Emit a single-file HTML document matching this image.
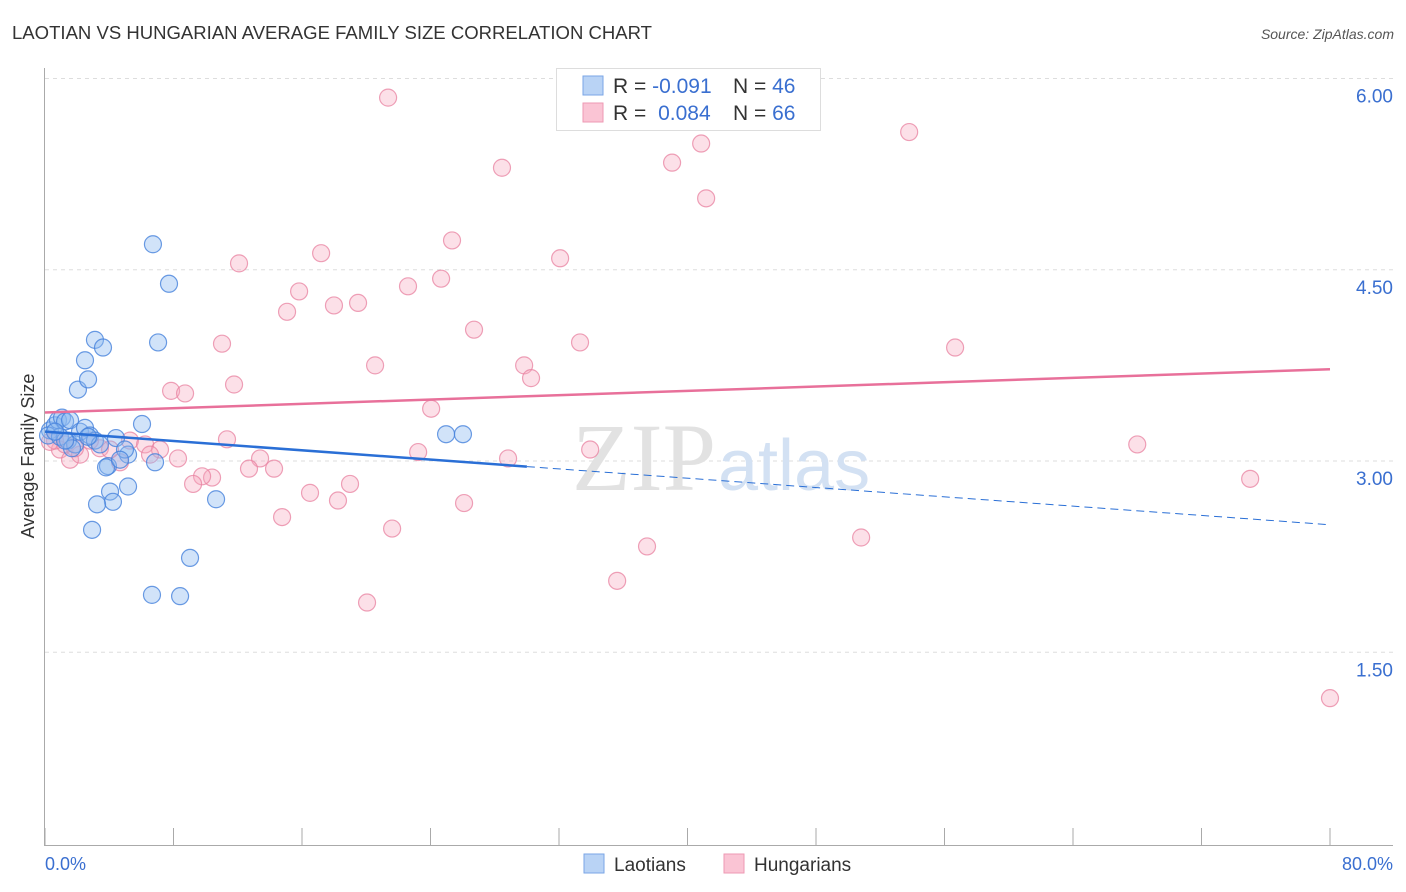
<!DOCTYPE html>
<html><head><meta charset="utf-8"><style>
body{margin:0;background:#fff;font-family:"Liberation Sans",sans-serif;}
svg{display:block}
</style></head><body>
<svg id="chart" width="1406" height="892">
<text x="12" y="39" font-size="18" fill="#333" textLength="640" lengthAdjust="spacingAndGlyphs">LAOTIAN VS HUNGARIAN AVERAGE FAMILY SIZE CORRELATION CHART</text>
<text x="1394" y="39" font-size="14" fill="#555" font-style="italic" text-anchor="end">Source: ZipAtlas.com</text>
<g id="grid"></g>
<text x="716" y="490" font-size="96" fill="#e2e2e2" text-anchor="end" font-family="Liberation Serif,serif">ZIP</text>
<text x="718" y="490" font-size="72" fill="#d3e1f3">atlas</text>
<g id="marks"></g>
<text transform="translate(34,456) rotate(-90)" font-size="18" fill="#333" text-anchor="middle">Average Family Size</text>
<text x="45" y="870" font-size="18" fill="#3a6fd0">0.0%</text>
<text x="1393" y="870" font-size="18" fill="#3a6fd0" text-anchor="end">80.0%</text>
<g>
<rect x="556.5" y="68.5" width="264" height="62" fill="#fff" stroke="#ddd"/>
<rect x="583" y="76" width="20" height="19" fill="#b9d3f5" stroke="#7aa6e6"/>
<rect x="583" y="103" width="20" height="19" fill="#fac4d4" stroke="#ee99b3"/>
<text x="613" y="93" font-size="21" fill="#333">R = <tspan fill="#3a6fd0">-0.091</tspan></text>
<text x="733" y="93" font-size="21" fill="#333">N = <tspan fill="#3a6fd0">46</tspan></text>
<text x="613" y="120" font-size="21" fill="#333">R = <tspan fill="#3a6fd0" dx="6">0.084</tspan></text>
<text x="733" y="120" font-size="21" fill="#333">N = <tspan fill="#3a6fd0">66</tspan></text>
</g>
<g>
<rect x="584" y="854" width="20" height="19" fill="#b9d3f5" stroke="#7aa6e6"/>
<text x="614" y="871" font-size="19" fill="#333">Laotians</text>
<rect x="724" y="854" width="20" height="19" fill="#fac4d4" stroke="#ee99b3"/>
<text x="754" y="871" font-size="19" fill="#333">Hungarians</text>
</g>
</svg>
<script>
const yTicks=[1.5,3.0,4.5,6.0];
const yTickLabels=["1.50","3.00","4.50","6.00"];
const xTicks=[0,8,16,24,32,40,48,56,64,72,80];
const blueX=[0.31,0.62,0.81,1.06,1.25,1.56,0.19,0.93,1.43,1.87,1.68,2.18,2.49,2.80,3.11,2.05,2.49,2.68,3.11,3.61,6.72,7.72,7.04,6.04,4.42,5.17,6.85,3.92,3.80,4.05,5.17,4.23,3.24,2.93,10.65,9.03,6.66,8.41,24.97,26.02,4.98,3.42,1.25,0.62,4.67,2.68];
const blueY=[3.24,3.28,3.32,3.34,3.31,3.32,3.20,3.19,3.16,3.13,3.10,3.23,3.26,3.20,3.16,3.56,3.79,3.64,3.95,3.89,4.70,4.39,3.93,3.29,3.18,3.05,2.99,2.96,2.95,2.76,2.80,2.68,2.66,2.46,2.70,2.24,1.95,1.94,3.21,3.21,3.09,3.13,3.16,3.23,3.01,3.19];
const pinkX=[21.36,28.45,39.04,40.85,53.80,41.16,25.34,32.07,17.19,12.08,24.66,22.60,15.82,19.49,17.99,15.07,26.71,11.02,33.31,56.66,20.55,29.83,30.26,11.77,7.85,8.72,24.04,11.33,68.00,33.94,23.23,28.83,13.39,8.28,12.70,14.26,10.40,9.78,9.22,75.03,18.99,16.50,18.24,26.09,14.76,21.61,37.48,50.81,35.62,20.05,80.0,0.93,1.56,2.18,3.42,1.25,5.29,4.67,6.23,7.16,0.62,2.80,4.05,6.54,1.87,0.31];
const pinkY=[5.85,5.30,5.34,5.49,5.58,5.06,4.73,4.59,4.63,4.55,4.43,4.37,4.33,4.24,4.22,4.17,4.03,3.92,3.93,3.89,3.75,3.75,3.65,3.60,3.55,3.53,3.41,3.17,3.13,3.09,3.07,3.02,3.02,3.02,2.94,2.94,2.87,2.88,2.82,2.86,2.82,2.75,2.69,2.67,2.56,2.47,2.33,2.40,2.06,1.89,1.14,3.09,3.01,3.05,3.10,3.13,3.16,2.99,3.13,3.09,3.16,3.16,3.09,3.05,3.10,3.15];
const blueTrend=[3.23,2.50];
const blueSolidEnd=30;
const pinkTrend=[3.38,3.72];
const xScale=v=>45+v/80*1285;
const yScale=v=>461-(v-3)*127.5;
const NS="http://www.w3.org/2000/svg";
const grid=document.getElementById('grid');
const marks=document.getElementById('marks');
function mk(tag,attrs,parent){const e=document.createElementNS(NS,tag);for(const k in attrs)e.setAttribute(k,attrs[k]);parent.appendChild(e);return e;}
yTicks.forEach((t,i)=>{
 const l=mk('line',{x1:45,x2:1393,y1:yScale(t),y2:yScale(t),stroke:'#ddd','stroke-dasharray':'4,4'},grid);
 
 
 const tx=mk('text',{x:1393,y:yScale(t)+24,'font-size':19,fill:'#3a6fd0','text-anchor':'end'},grid);
 tx.textContent=yTickLabels[i];
 
 
});
const ax=mk('line',{x1:44.5,x2:44.5,y1:68,y2:846,stroke:'#aaa'},grid);


const bx=mk('line',{x1:44,x2:1393,y1:845.5,y2:845.5,stroke:'#aaa'},grid);


xTicks.forEach(t=>{
 const l=mk('line',{x1:xScale(t),x2:xScale(t),y1:828,y2:846,stroke:'#aaa'},grid);
 
 
});
pinkX.forEach((x,i)=>{
 const c=mk('circle',{cx:xScale(x),cy:yScale(pinkY[i]),r:8.5,fill:'rgba(246,166,190,0.35)',stroke:'rgba(232,130,160,0.75)','stroke-width':1.2},marks);
 
 
});
blueX.forEach((x,i)=>{
 const c=mk('circle',{cx:xScale(x),cy:yScale(blueY[i]),r:8.5,fill:'rgba(140,185,240,0.4)',stroke:'rgba(70,130,220,0.8)','stroke-width':1.2},marks);
 
 
});
const bAt=x=>blueTrend[0]+(blueTrend[1]-blueTrend[0])*x/80;
const bl1=mk('line',{x1:xScale(0),y1:yScale(bAt(0)),x2:xScale(blueSolidEnd),y2:yScale(bAt(blueSolidEnd)),stroke:'#2a6fd6','stroke-width':2.5},marks);


const bl2=mk('line',{x1:xScale(blueSolidEnd),y1:yScale(bAt(blueSolidEnd)),x2:xScale(80),y2:yScale(bAt(80)),stroke:'#2a6fd6','stroke-width':1,'stroke-dasharray':'8,5'},marks);


const pl=mk('line',{x1:xScale(0),y1:yScale(pinkTrend[0]),x2:xScale(80),y2:yScale(pinkTrend[1]),stroke:'#e8709a','stroke-width':2.5},marks);


</script>
</body></html>
